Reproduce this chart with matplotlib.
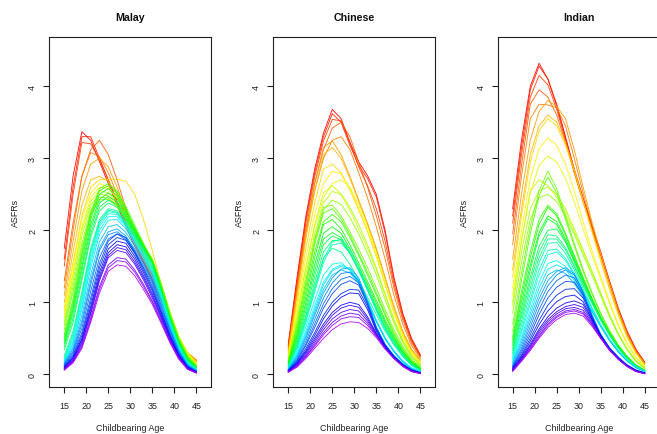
import colorsys
import matplotlib
matplotlib.use("Agg")
import matplotlib.pyplot as plt

plt.rcParams['font.family'] = ['Liberation Sans', 'DejaVu Sans']

ages = [15, 17, 19, 21, 23, 25, 27, 29, 31, 33, 35, 37, 39, 41, 43, 45]
xticks = [15, 20, 25, 30, 35, 40, 45]
yticks = [0, 1, 2, 3, 4]
titles = ["Malay", "Chinese", "Indian"]
xlabel = "Childbearing Age"
ylabel = "ASFRs"

malay = [
    [1.75, 2.75, 3.37, 3.25, 2.95, 2.65, 2.35, 2.05, 1.78, 1.55, 1.30, 1.02, 0.72, 0.46, 0.28, 0.18],
    [1.60, 2.60, 3.30, 3.30, 3.00, 2.70, 2.40, 2.10, 1.82, 1.57, 1.32, 1.03, 0.73, 0.47, 0.29, 0.19],
    [1.50, 2.50, 3.22, 3.20, 2.98, 2.70, 2.40, 2.10, 1.83, 1.58, 1.33, 1.04, 0.74, 0.47, 0.29, 0.19],
    [1.30, 2.10, 2.75, 3.12, 3.25, 3.05, 2.70, 2.30, 1.95, 1.65, 1.38, 1.08, 0.76, 0.49, 0.30, 0.20],
    [1.20, 2.00, 2.75, 3.08, 3.02, 2.80, 2.50, 2.18, 1.88, 1.62, 1.37, 1.07, 0.75, 0.48, 0.29, 0.19],
    [1.10, 1.85, 2.55, 2.92, 3.00, 2.88, 2.60, 2.27, 1.95, 1.68, 1.42, 1.10, 0.77, 0.49, 0.30, 0.19],
    [1.00, 1.70, 2.35, 2.70, 2.75, 2.68, 2.50, 2.25, 1.98, 1.72, 1.48, 1.15, 0.80, 0.50, 0.30, 0.18],
    [0.92, 1.55, 2.20, 2.60, 2.70, 2.71, 2.71, 2.68, 2.50, 2.15, 1.72, 1.25, 0.84, 0.52, 0.30, 0.17],
    [0.88, 1.50, 2.15, 2.52, 2.65, 2.60, 2.45, 2.25, 2.02, 1.80, 1.58, 1.22, 0.84, 0.52, 0.30, 0.16],
    [0.82, 1.42, 2.05, 2.45, 2.60, 2.58, 2.45, 2.25, 2.02, 1.80, 1.60, 1.25, 0.86, 0.53, 0.29, 0.15],
    [0.78, 1.38, 2.00, 2.40, 2.55, 2.52, 2.40, 2.20, 1.98, 1.78, 1.60, 1.25, 0.86, 0.52, 0.28, 0.14],
    [0.72, 1.30, 1.92, 2.35, 2.50, 2.48, 2.36, 2.18, 1.97, 1.78, 1.60, 1.26, 0.86, 0.52, 0.27, 0.13],
    [0.68, 1.22, 1.82, 2.28, 2.46, 2.45, 2.34, 2.16, 1.96, 1.77, 1.60, 1.26, 0.86, 0.51, 0.26, 0.12],
    [0.62, 1.15, 1.75, 2.22, 2.42, 2.43, 2.33, 2.15, 1.95, 1.77, 1.60, 1.26, 0.85, 0.50, 0.25, 0.12],
    [0.55, 1.05, 1.70, 2.25, 2.58, 2.65, 2.55, 2.33, 2.07, 1.82, 1.58, 1.22, 0.82, 0.48, 0.24, 0.11],
    [0.52, 1.00, 1.65, 2.20, 2.55, 2.62, 2.52, 2.30, 2.04, 1.80, 1.57, 1.21, 0.81, 0.47, 0.23, 0.11],
    [0.48, 0.95, 1.58, 2.15, 2.50, 2.58, 2.48, 2.27, 2.02, 1.78, 1.56, 1.20, 0.80, 0.46, 0.22, 0.10],
    [0.45, 0.90, 1.50, 2.08, 2.43, 2.52, 2.44, 2.24, 2.00, 1.77, 1.55, 1.19, 0.79, 0.45, 0.21, 0.10],
    [0.42, 0.85, 1.44, 2.02, 2.38, 2.47, 2.40, 2.21, 1.98, 1.76, 1.55, 1.18, 0.78, 0.44, 0.20, 0.09],
    [0.38, 0.78, 1.36, 1.95, 2.32, 2.42, 2.36, 2.18, 1.96, 1.75, 1.54, 1.17, 0.77, 0.43, 0.20, 0.09],
    [0.34, 0.72, 1.30, 1.90, 2.27, 2.38, 2.32, 2.15, 1.94, 1.74, 1.53, 1.16, 0.76, 0.42, 0.19, 0.08],
    [0.26, 0.60, 1.15, 1.75, 2.15, 2.30, 2.27, 2.12, 1.92, 1.72, 1.50, 1.14, 0.74, 0.41, 0.18, 0.08],
    [0.23, 0.56, 1.10, 1.70, 2.12, 2.28, 2.25, 2.10, 1.90, 1.70, 1.48, 1.12, 0.73, 0.40, 0.17, 0.07],
    [0.21, 0.52, 1.05, 1.66, 2.09, 2.26, 2.24, 2.09, 1.88, 1.68, 1.46, 1.10, 0.72, 0.39, 0.16, 0.07],
    [0.19, 0.48, 1.00, 1.60, 2.05, 2.23, 2.22, 2.07, 1.86, 1.66, 1.44, 1.08, 0.70, 0.38, 0.16, 0.06],
    [0.18, 0.45, 0.95, 1.55, 2.00, 2.19, 2.19, 2.05, 1.84, 1.64, 1.42, 1.06, 0.69, 0.37, 0.15, 0.06],
    [0.17, 0.42, 0.90, 1.48, 1.94, 2.14, 2.15, 2.02, 1.82, 1.62, 1.40, 1.05, 0.68, 0.36, 0.15, 0.06],
    [0.16, 0.38, 0.82, 1.38, 1.84, 2.05, 2.08, 1.97, 1.78, 1.58, 1.36, 1.02, 0.66, 0.35, 0.14, 0.05],
    [0.15, 0.35, 0.75, 1.30, 1.76, 1.98, 2.02, 1.92, 1.74, 1.54, 1.32, 0.98, 0.63, 0.33, 0.13, 0.05],
    [0.14, 0.32, 0.70, 1.24, 1.72, 1.94, 1.98, 1.89, 1.71, 1.51, 1.29, 0.96, 0.62, 0.32, 0.12, 0.05],
    [0.13, 0.30, 0.64, 1.15, 1.62, 1.88, 1.95, 1.87, 1.69, 1.48, 1.26, 0.93, 0.60, 0.31, 0.12, 0.04],
    [0.12, 0.27, 0.58, 1.06, 1.54, 1.85, 1.95, 1.90, 1.71, 1.47, 1.22, 0.90, 0.57, 0.29, 0.11, 0.04],
    [0.11, 0.25, 0.54, 1.00, 1.48, 1.80, 1.90, 1.86, 1.68, 1.44, 1.19, 0.87, 0.55, 0.28, 0.10, 0.04],
    [0.10, 0.23, 0.50, 0.94, 1.42, 1.74, 1.85, 1.82, 1.64, 1.41, 1.16, 0.85, 0.53, 0.27, 0.10, 0.03],
    [0.09, 0.22, 0.48, 0.90, 1.37, 1.69, 1.80, 1.77, 1.60, 1.37, 1.12, 0.82, 0.51, 0.26, 0.09, 0.03],
    [0.08, 0.20, 0.45, 0.86, 1.33, 1.65, 1.76, 1.73, 1.56, 1.34, 1.09, 0.80, 0.50, 0.25, 0.09, 0.03],
    [0.08, 0.19, 0.43, 0.83, 1.30, 1.62, 1.72, 1.69, 1.53, 1.31, 1.06, 0.78, 0.48, 0.24, 0.08, 0.02],
    [0.07, 0.18, 0.40, 0.78, 1.22, 1.52, 1.62, 1.60, 1.45, 1.25, 1.02, 0.75, 0.46, 0.23, 0.08, 0.02],
    [0.06, 0.17, 0.38, 0.75, 1.18, 1.48, 1.58, 1.56, 1.42, 1.22, 1.00, 0.73, 0.45, 0.22, 0.07, 0.02],
    [0.06, 0.16, 0.36, 0.72, 1.13, 1.43, 1.52, 1.50, 1.37, 1.18, 0.97, 0.71, 0.44, 0.21, 0.07, 0.02],
]

chinese = [
    [0.42, 1.35, 2.20, 2.85, 3.35, 3.68, 3.55, 3.22, 2.95, 2.76, 2.50, 2.00, 1.35, 0.85, 0.50, 0.27],
    [0.40, 1.30, 2.15, 2.80, 3.30, 3.62, 3.50, 3.18, 2.90, 2.72, 2.46, 1.96, 1.32, 0.83, 0.48, 0.26],
    [0.38, 1.25, 2.10, 2.74, 3.24, 3.54, 3.52, 3.22, 2.88, 2.62, 2.30, 1.85, 1.26, 0.80, 0.46, 0.25],
    [0.36, 1.20, 2.02, 2.65, 3.12, 3.42, 3.50, 3.30, 2.95, 2.60, 2.20, 1.75, 1.20, 0.76, 0.44, 0.24],
    [0.34, 1.15, 1.95, 2.55, 3.00, 3.25, 3.30, 3.12, 2.80, 2.45, 2.05, 1.60, 1.10, 0.70, 0.40, 0.22],
    [0.33, 1.15, 1.98, 2.65, 3.15, 3.24, 3.05, 2.75, 2.42, 2.10, 1.75, 1.35, 0.95, 0.60, 0.35, 0.20],
    [0.30, 1.08, 1.88, 2.55, 3.05, 3.15, 3.00, 2.72, 2.40, 2.08, 1.72, 1.32, 0.92, 0.58, 0.33, 0.19],
    [0.28, 1.00, 1.75, 2.38, 2.85, 2.92, 2.80, 2.56, 2.28, 1.98, 1.64, 1.25, 0.87, 0.55, 0.31, 0.18],
    [0.26, 0.92, 1.62, 2.22, 2.65, 2.82, 2.78, 2.58, 2.30, 2.00, 1.65, 1.25, 0.86, 0.54, 0.30, 0.17],
    [0.24, 0.85, 1.50, 2.05, 2.45, 2.65, 2.70, 2.60, 2.35, 2.05, 1.68, 1.25, 0.85, 0.52, 0.29, 0.16],
    [0.22, 0.82, 1.48, 2.08, 2.52, 2.62, 2.50, 2.28, 2.02, 1.75, 1.45, 1.10, 0.75, 0.47, 0.26, 0.14],
    [0.20, 0.75, 1.38, 1.95, 2.38, 2.54, 2.50, 2.32, 2.08, 1.80, 1.48, 1.12, 0.76, 0.47, 0.26, 0.14],
    [0.19, 0.70, 1.30, 1.85, 2.28, 2.42, 2.36, 2.18, 1.95, 1.68, 1.38, 1.04, 0.71, 0.44, 0.24, 0.13],
    [0.18, 0.68, 1.28, 1.88, 2.32, 2.35, 2.20, 1.98, 1.74, 1.48, 1.20, 0.90, 0.62, 0.39, 0.21, 0.11],
    [0.17, 0.64, 1.22, 1.80, 2.24, 2.30, 2.16, 1.94, 1.68, 1.42, 1.14, 0.85, 0.58, 0.36, 0.19, 0.10],
    [0.16, 0.60, 1.15, 1.70, 2.12, 2.22, 2.12, 1.90, 1.65, 1.38, 1.10, 0.82, 0.55, 0.34, 0.18, 0.09],
    [0.15, 0.56, 1.08, 1.62, 2.08, 2.15, 2.02, 1.80, 1.55, 1.29, 1.03, 0.76, 0.52, 0.32, 0.17, 0.08],
    [0.14, 0.52, 1.00, 1.52, 1.96, 2.05, 1.96, 1.75, 1.50, 1.25, 0.99, 0.73, 0.50, 0.31, 0.16, 0.08],
    [0.13, 0.48, 0.94, 1.44, 1.88, 1.97, 1.90, 1.70, 1.46, 1.21, 0.95, 0.70, 0.48, 0.29, 0.15, 0.07],
    [0.12, 0.45, 0.88, 1.36, 1.80, 1.92, 1.87, 1.68, 1.44, 1.18, 0.92, 0.67, 0.46, 0.28, 0.14, 0.07],
    [0.11, 0.42, 0.82, 1.28, 1.70, 1.86, 1.85, 1.68, 1.44, 1.17, 0.90, 0.65, 0.44, 0.27, 0.14, 0.06],
    [0.10, 0.40, 0.78, 1.22, 1.62, 1.75, 1.70, 1.53, 1.31, 1.07, 0.83, 0.60, 0.41, 0.25, 0.13, 0.06],
    [0.10, 0.38, 0.75, 1.18, 1.60, 1.84, 1.88, 1.74, 1.50, 1.20, 0.90, 0.64, 0.43, 0.26, 0.13, 0.05],
    [0.09, 0.36, 0.72, 1.14, 1.55, 1.80, 1.82, 1.68, 1.45, 1.17, 0.88, 0.62, 0.42, 0.25, 0.12, 0.05],
    [0.09, 0.33, 0.66, 1.03, 1.38, 1.53, 1.55, 1.45, 1.27, 1.02, 0.75, 0.51, 0.33, 0.19, 0.09, 0.04],
    [0.08, 0.30, 0.60, 0.95, 1.28, 1.46, 1.52, 1.46, 1.30, 1.04, 0.75, 0.50, 0.32, 0.18, 0.09, 0.04],
    [0.08, 0.28, 0.56, 0.90, 1.24, 1.44, 1.50, 1.45, 1.29, 1.03, 0.74, 0.50, 0.32, 0.18, 0.08, 0.03],
    [0.07, 0.26, 0.53, 0.86, 1.18, 1.38, 1.45, 1.41, 1.27, 1.01, 0.73, 0.49, 0.31, 0.17, 0.08, 0.03],
    [0.07, 0.24, 0.50, 0.82, 1.13, 1.34, 1.46, 1.48, 1.34, 1.02, 0.66, 0.42, 0.26, 0.15, 0.07, 0.03],
    [0.06, 0.22, 0.46, 0.76, 1.06, 1.27, 1.40, 1.42, 1.30, 1.00, 0.65, 0.41, 0.26, 0.14, 0.07, 0.03],
    [0.06, 0.20, 0.42, 0.70, 0.98, 1.19, 1.32, 1.36, 1.27, 0.98, 0.64, 0.41, 0.25, 0.14, 0.06, 0.02],
    [0.05, 0.19, 0.40, 0.65, 0.92, 1.12, 1.25, 1.30, 1.24, 0.97, 0.63, 0.40, 0.25, 0.13, 0.06, 0.02],
    [0.05, 0.17, 0.36, 0.58, 0.82, 1.00, 1.12, 1.18, 1.17, 0.94, 0.62, 0.40, 0.24, 0.13, 0.06, 0.02],
    [0.05, 0.16, 0.33, 0.54, 0.77, 0.95, 1.07, 1.13, 1.12, 0.90, 0.60, 0.39, 0.24, 0.13, 0.05, 0.02],
    [0.04, 0.15, 0.31, 0.50, 0.70, 0.86, 0.96, 1.00, 0.97, 0.80, 0.57, 0.38, 0.24, 0.13, 0.05, 0.02],
    [0.04, 0.14, 0.29, 0.47, 0.66, 0.82, 0.92, 0.96, 0.93, 0.77, 0.56, 0.37, 0.23, 0.12, 0.05, 0.02],
    [0.04, 0.13, 0.27, 0.44, 0.62, 0.77, 0.86, 0.90, 0.88, 0.74, 0.55, 0.37, 0.23, 0.12, 0.05, 0.02],
    [0.03, 0.12, 0.25, 0.41, 0.58, 0.72, 0.81, 0.85, 0.83, 0.71, 0.54, 0.36, 0.22, 0.12, 0.04, 0.01],
    [0.03, 0.11, 0.24, 0.39, 0.55, 0.68, 0.77, 0.80, 0.79, 0.68, 0.53, 0.36, 0.22, 0.11, 0.04, 0.01],
    [0.03, 0.10, 0.22, 0.36, 0.50, 0.62, 0.70, 0.73, 0.72, 0.64, 0.51, 0.35, 0.22, 0.11, 0.04, 0.01],
]

indian = [
    [2.30, 3.25, 4.00, 4.32, 4.10, 3.75, 3.30, 2.85, 2.45, 2.07, 1.70, 1.30, 0.92, 0.60, 0.35, 0.17],
    [2.20, 3.15, 3.95, 4.28, 4.10, 3.72, 3.28, 2.83, 2.43, 2.05, 1.68, 1.28, 0.90, 0.58, 0.34, 0.16],
    [2.10, 3.05, 3.85, 4.15, 4.02, 3.68, 3.25, 2.80, 2.40, 2.03, 1.66, 1.27, 0.89, 0.57, 0.33, 0.16],
    [1.95, 2.90, 3.75, 3.95, 3.85, 3.60, 3.22, 2.80, 2.40, 2.02, 1.65, 1.26, 0.88, 0.56, 0.32, 0.15],
    [1.80, 2.75, 3.55, 3.75, 3.74, 3.70, 3.45, 3.00, 2.52, 2.08, 1.66, 1.27, 0.88, 0.56, 0.32, 0.15],
    [1.60, 2.50, 3.25, 3.65, 3.80, 3.72, 3.55, 3.12, 2.60, 2.12, 1.68, 1.27, 0.88, 0.56, 0.31, 0.15],
    [1.45, 2.30, 3.05, 3.45, 3.60, 3.50, 3.22, 2.85, 2.42, 2.00, 1.60, 1.20, 0.84, 0.53, 0.30, 0.14],
    [1.35, 2.20, 2.95, 3.38, 3.55, 3.45, 3.18, 2.82, 2.40, 1.98, 1.57, 1.18, 0.82, 0.51, 0.29, 0.13],
    [1.20, 2.00, 2.72, 3.13, 3.28, 3.18, 2.92, 2.55, 2.12, 1.72, 1.36, 1.01, 0.69, 0.43, 0.24, 0.11],
    [1.10, 1.85, 2.52, 2.90, 3.03, 2.95, 2.72, 2.40, 2.02, 1.66, 1.32, 0.98, 0.67, 0.42, 0.23, 0.11],
    [1.00, 1.85, 2.55, 2.70, 2.62, 2.46, 2.25, 1.98, 1.70, 1.42, 1.12, 0.82, 0.56, 0.35, 0.19, 0.09],
    [0.95, 1.70, 2.30, 2.55, 2.60, 2.50, 2.30, 2.02, 1.73, 1.44, 1.13, 0.83, 0.56, 0.35, 0.19, 0.09],
    [0.85, 1.55, 2.15, 2.45, 2.50, 2.40, 2.20, 1.94, 1.66, 1.38, 1.09, 0.80, 0.55, 0.34, 0.18, 0.08],
    [0.70, 1.40, 2.05, 2.55, 2.82, 2.58, 2.20, 1.82, 1.46, 1.14, 0.85, 0.61, 0.41, 0.25, 0.13, 0.06],
    [0.60, 1.30, 1.95, 2.48, 2.74, 2.52, 2.15, 1.78, 1.43, 1.12, 0.84, 0.60, 0.40, 0.25, 0.13, 0.06],
    [0.52, 1.15, 1.70, 2.15, 2.35, 2.23, 1.96, 1.65, 1.35, 1.06, 0.80, 0.58, 0.39, 0.24, 0.12, 0.05],
    [0.48, 1.08, 1.62, 2.08, 2.32, 2.20, 1.93, 1.63, 1.33, 1.05, 0.79, 0.57, 0.39, 0.24, 0.12, 0.05],
    [0.44, 1.00, 1.52, 1.97, 2.20, 2.12, 1.88, 1.60, 1.31, 1.04, 0.78, 0.56, 0.38, 0.23, 0.12, 0.05],
    [0.40, 0.92, 1.45, 1.92, 2.16, 2.08, 1.85, 1.57, 1.29, 1.03, 0.77, 0.56, 0.38, 0.23, 0.12, 0.05],
    [0.36, 0.85, 1.35, 1.78, 2.00, 2.02, 1.84, 1.56, 1.28, 1.02, 0.77, 0.55, 0.37, 0.23, 0.12, 0.05],
    [0.33, 0.80, 1.28, 1.70, 1.94, 1.92, 1.76, 1.51, 1.25, 1.00, 0.76, 0.55, 0.37, 0.22, 0.11, 0.05],
    [0.30, 0.74, 1.20, 1.62, 1.88, 1.88, 1.73, 1.49, 1.23, 0.99, 0.75, 0.54, 0.36, 0.22, 0.11, 0.05],
    [0.27, 0.68, 1.12, 1.55, 1.82, 1.83, 1.68, 1.45, 1.19, 0.93, 0.69, 0.49, 0.33, 0.20, 0.10, 0.04],
    [0.24, 0.62, 1.04, 1.45, 1.72, 1.74, 1.61, 1.40, 1.16, 0.92, 0.68, 0.48, 0.32, 0.19, 0.10, 0.04],
    [0.22, 0.58, 0.98, 1.38, 1.66, 1.70, 1.58, 1.38, 1.14, 0.91, 0.68, 0.48, 0.32, 0.19, 0.10, 0.04],
    [0.20, 0.52, 0.90, 1.28, 1.54, 1.58, 1.50, 1.33, 1.11, 0.89, 0.67, 0.48, 0.32, 0.19, 0.10, 0.04],
    [0.18, 0.48, 0.84, 1.20, 1.46, 1.52, 1.46, 1.30, 1.09, 0.88, 0.67, 0.47, 0.31, 0.19, 0.10, 0.04],
    [0.16, 0.44, 0.78, 1.12, 1.38, 1.45, 1.40, 1.26, 1.07, 0.87, 0.66, 0.47, 0.31, 0.18, 0.09, 0.04],
    [0.14, 0.40, 0.72, 1.05, 1.30, 1.43, 1.48, 1.40, 1.15, 0.83, 0.56, 0.37, 0.24, 0.13, 0.06, 0.02],
    [0.12, 0.36, 0.66, 0.98, 1.23, 1.38, 1.45, 1.38, 1.14, 0.82, 0.55, 0.37, 0.24, 0.13, 0.06, 0.02],
    [0.11, 0.33, 0.60, 0.90, 1.15, 1.30, 1.38, 1.34, 1.12, 0.81, 0.55, 0.36, 0.23, 0.13, 0.06, 0.02],
    [0.10, 0.30, 0.55, 0.83, 1.06, 1.21, 1.29, 1.28, 1.10, 0.80, 0.54, 0.36, 0.23, 0.12, 0.05, 0.02],
    [0.09, 0.27, 0.50, 0.75, 0.96, 1.10, 1.18, 1.19, 1.06, 0.79, 0.54, 0.36, 0.23, 0.12, 0.05, 0.02],
    [0.08, 0.25, 0.46, 0.69, 0.88, 1.01, 1.08, 1.10, 1.01, 0.77, 0.53, 0.35, 0.22, 0.12, 0.05, 0.02],
    [0.07, 0.23, 0.42, 0.63, 0.80, 0.92, 0.99, 1.02, 0.97, 0.76, 0.53, 0.35, 0.22, 0.12, 0.05, 0.01],
    [0.06, 0.22, 0.40, 0.60, 0.76, 0.87, 0.94, 0.97, 0.93, 0.74, 0.52, 0.35, 0.22, 0.12, 0.05, 0.01],
    [0.06, 0.21, 0.38, 0.57, 0.73, 0.84, 0.91, 0.93, 0.89, 0.72, 0.51, 0.34, 0.21, 0.11, 0.04, 0.01],
    [0.05, 0.20, 0.36, 0.54, 0.70, 0.81, 0.88, 0.90, 0.86, 0.70, 0.51, 0.34, 0.21, 0.11, 0.04, 0.01],
    [0.05, 0.19, 0.35, 0.52, 0.68, 0.79, 0.86, 0.88, 0.84, 0.69, 0.50, 0.34, 0.21, 0.11, 0.04, 0.01],
    [0.04, 0.18, 0.33, 0.50, 0.65, 0.76, 0.83, 0.85, 0.81, 0.67, 0.50, 0.33, 0.21, 0.11, 0.04, 0.01],
]

panels = [malay, chinese, indian]

W, H = 657, 435
fig = plt.figure(figsize=(W / 100, H / 100), dpi=100)
fig.patch.set_facecolor('white')

lefts = [49.3, 273.3, 497.7]
ax_w, ax_top, ax_bot = 162.0, 38.3, 388.3

for k, (name, curves) in enumerate(zip(titles, panels)):
    ax = fig.add_axes([lefts[k] / W, (H - ax_bot) / H, ax_w / W, (ax_bot - ax_top) / H])
    n = len(curves)
    for i, c in enumerate(curves):
        r, g, b = colorsys.hsv_to_rgb(i / (1.25 * n), 1.0, 1.0)
        ax.plot(ages, c, color=(r, g, b), lw=0.65, alpha=0.9, solid_joinstyle='round')
    ax.set_xlim(11.6, 48.4)
    ax.set_ylim(-0.18, 4.68)
    ax.set_xticks(xticks)
    ax.set_xticklabels([str(t) for t in xticks])
    ax.set_yticks(yticks)
    ax.set_yticklabels([str(t) for t in yticks], rotation=90, va='center')
    ax.tick_params(direction='out', length=4.3, width=0.8, colors='#222222',
                   labelsize=6.4, labelcolor='#222222')
    ax.tick_params(axis='x', pad=5.5)
    ax.tick_params(axis='y', pad=4.5)
    for s in ax.spines.values():
        s.set_linewidth(0.8)
        s.set_color('#222222')
    if k == 2:
        ax.spines['right'].set_visible(False)
    ax.set_title(name, fontsize=7.7, fontweight='bold', y=1.0594, va='center',
                 color='#111111', pad=0)
    ax.set_xlabel(xlabel, fontsize=6.4, color='#222222')
    ax.xaxis.label.set_va('center')
    ax.xaxis.set_label_coords(0.5, -0.114)
    ax.set_ylabel(ylabel, fontsize=6.4, color='#222222')
    ax.yaxis.label.set_va('center')
    ax.yaxis.set_label_coords(-0.207, 0.5)

fig.savefig('out.png', dpi=100, facecolor='white')
